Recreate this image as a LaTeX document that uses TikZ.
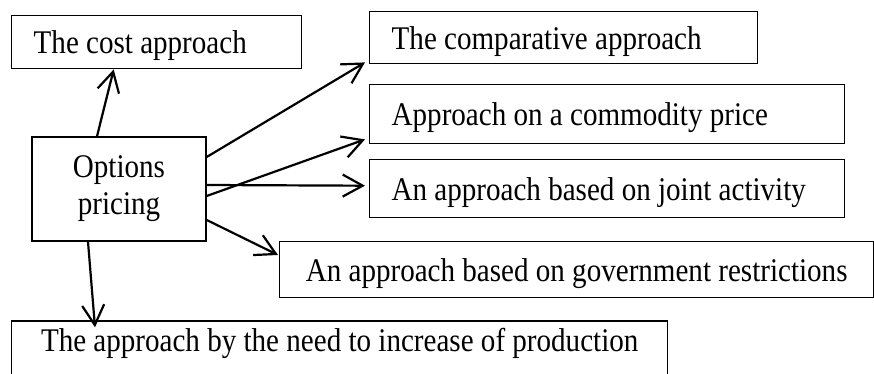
\documentclass[tikz,border=0pt]{standalone}
\usepackage{fontspec}
\setmainfont[FakeStretch=0.88]{Liberation Serif}
\usepackage{tikz}
\usetikzlibrary{arrows.meta}

\begin{document}
\begin{tikzpicture}[
  font=\fontsize{18.8}{21}\selectfont,
  box/.style={draw, line width=0.8pt, anchor=north west, inner xsep=0.44cm, inner ysep=0pt, text depth=0pt, align=flush left},
  hub/.style={draw, line width=0.8pt, align=center, minimum width=3.48cm, minimum height=2.08cm},
  arr/.style={-{Straight Barb[length=4mm, width=4.4mm]}, line width=1.25pt}
]
  \useasboundingbox (0,0) rectangle (17.48,7.48);

  \node[hub] (opt) at (2.38,3.70) {Options\\pricing};
  \node[box, text width=4.92cm, minimum height=1.06cm] (cost) at (0.22,7.18) {The cost approach};
  \node[box, text width=6.88cm, minimum height=1.04cm] (comp) at (7.38,7.26) {The comparative approach};
  \node[box, text width=8.62cm, minimum height=1.18cm] (comm) at (7.38,5.80) {Approach on a commodity price};
  \node[box, text width=8.62cm, minimum height=1.16cm] (joint) at (7.38,4.30) {An approach based on joint activity};
  \node[box, minimum width=11.88cm, minimum height=1.12cm] (gov) at (5.58,2.66) {An approach based on government restrictions};
  % bottom box runs past the lower edge
  \node[box, anchor=base west, minimum width=13.12cm, text height=0.62cm, text depth=0.6cm] (prod) at (0.22,0.44) {The approach by the need to increase of production};

  % arrows out of the centre box
  \draw[arr] ([xshift=-0.44cm]opt.north) -- ([xshift=-0.86cm]cost.south);
  \draw[arr] ([yshift=0.64cm]opt.east) -- ([xshift=-0.08cm, yshift=0.04cm]comp.south west);
  \draw[arr] ([yshift=-0.14cm]opt.east) -- ([xshift=-0.08cm, yshift=0.10cm]comm.south west);
  \draw[arr] ([yshift=0.08cm]opt.east) -- ([xshift=-0.08cm, yshift=0.06cm]joint.west);
  \draw[arr] ([yshift=-0.62cm]opt.east) -- ([xshift=-0.02cm, yshift=-0.28cm]gov.north west);
  \draw[arr] ([xshift=-0.62cm]opt.south) -- ([xshift=1.68cm, yshift=-0.14cm]prod.north west);
\end{tikzpicture}
\end{document}
